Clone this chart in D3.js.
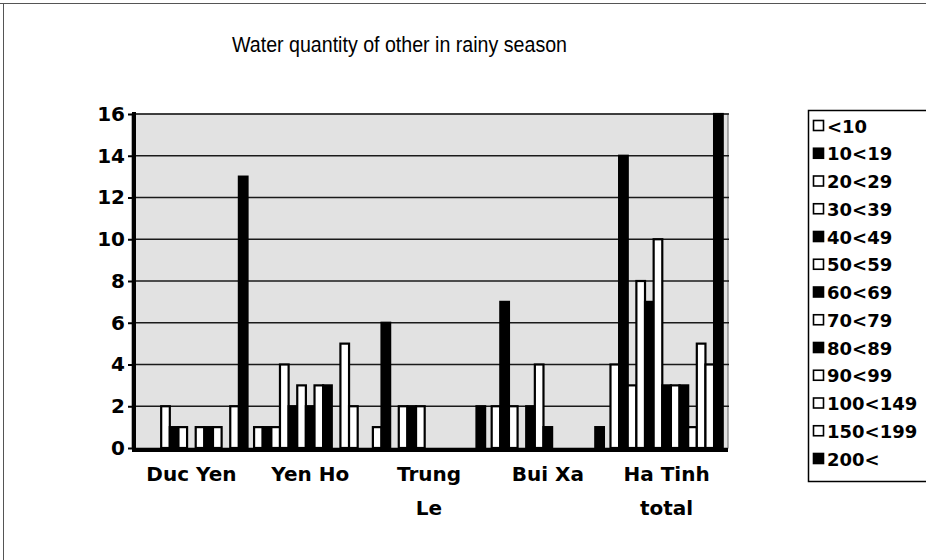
<!DOCTYPE html>
<html>
<head>
<meta charset="utf-8">
<script src="https://cdn.jsdelivr.net/npm/d3@7"></script>
<style>
  html, body { margin: 0; padding: 0; background: #fff; }
  svg { display: block; }
</style>
</head>
<body>
<svg id="chart" width="926" height="560"></svg>
<script>
// ---- data ----
const titleText = "Water quantity of other in rainy season";
const categories = ["Duc Yen", "Yen Ho", "Trung Le", "Bui Xa", "Ha Tinh total"];
const categoryLabelLines = [["Duc Yen"], ["Yen Ho"], ["Trung", "Le"], ["Bui Xa"], ["Ha Tinh", "total"]];
const seriesNames = ["<10", "10<19", "20<29", "30<39", "40<49", "50<59", "60<69",
                     "70<79", "80<89", "90<99", "100<149", "150<199", "200<"];
// one count per quantity class, in the order of seriesNames
const ducYen      = [0, 0, 0, 2, 1, 1, 0, 1, 1, 1, 0, 2, 13];
const yenHo       = [1, 1, 1, 4, 2, 3, 2, 3, 3, 0, 5, 2, 0];
const trungLe     = [1, 6, 0, 2, 2, 2, 0, 0, 0, 0, 0, 0, 2];
const buiXa       = [2, 7, 2, 0, 2, 4, 1, 0, 0, 0, 0, 0, 1];
const haTinhTotal = [4, 14, 3, 8, 7, 10, 3, 3, 3, 1, 5, 4, 16];
const yTicks = [0, 2, 4, 6, 8, 10, 12, 14, 16];

// ---- styles ----
const seriesFills = ["#ffffff", "#000000", "#ffffff", "#ffffff", "#000000", "#ffffff", "#000000",
                     "#ffffff", "#000000", "#ffffff", "#ffffff", "#ffffff", "#000000"];
const boldFont = "'DejaVu Sans', 'Liberation Sans', sans-serif";

const rows = [ducYen, yenHo, trungLe, buiXa, haTinhTotal];
const table = categories.map((c, ci) => ({
  category: c,
  values: seriesNames.map((s, si) => ({ series: s, index: si, value: rows[ci][si] }))
}));

const svg = d3.select("#chart");
const plot = { left: 132, right: 726, top: 114, bottom: 448 };

const x0 = d3.scaleBand().domain(categories).range([plot.left, plot.right]).padding(0);
const x1 = d3.scaleBand().domain(seriesNames).range([0, x0.bandwidth()])
  .paddingInner(0).paddingOuter(0.38);
const y = d3.scaleLinear().domain([0, 16]).range([plot.bottom, plot.top]);

// outer chart frame
svg.append("line").attr("x1", 0).attr("x2", 926).attr("y1", 3.5).attr("y2", 3.5)
  .attr("stroke", "#555").attr("stroke-width", 1);
svg.append("line").attr("x1", 3.5).attr("x2", 3.5).attr("y1", 3).attr("y2", 560)
  .attr("stroke", "#555").attr("stroke-width", 1);

// title
svg.append("text")
  .attr("x", 232).attr("y", 52)
  .attr("font-family", "'Liberation Sans', Arial, sans-serif")
  .attr("font-size", 22)
  .attr("textLength", 335)
  .attr("lengthAdjust", "spacingAndGlyphs")
  .attr("fill", "#000")
  .text(titleText);

// plot area
svg.append("rect")
  .attr("x", plot.left).attr("y", y(16))
  .attr("width", plot.right - plot.left + 2).attr("height", y(0) - y(16))
  .attr("fill", "#e2e2e2")
  .attr("stroke", "#666").attr("stroke-width", 1);

// gridlines
svg.append("g").selectAll("line")
  .data(yTicks.filter(t => t > 0))
  .join("line")
  .attr("x1", plot.left).attr("x2", plot.right + 3)
  .attr("y1", d => y(d)).attr("y2", d => y(d))
  .attr("stroke", "#1a1a1a").attr("stroke-width", 1.5);

// bars
const groups = svg.append("g").selectAll("g")
  .data(table)
  .join("g")
  .attr("transform", d => `translate(${x0(d.category)},0)`);

groups.selectAll("rect")
  .data(d => d.values.filter(v => v.value > 0))
  .join("rect")
  .attr("x", d => x1(d.series))
  .attr("width", x1.bandwidth())
  .attr("y", d => y(d.value))
  .attr("height", d => y(0) - y(d.value))
  .attr("fill", d => seriesFills[d.index])
  .attr("stroke", "#000")
  .attr("stroke-width", 2.2);

// y axis
const yAxis = svg.append("g")
  .attr("transform", `translate(${plot.left + 2},0)`)
  .call(d3.axisLeft(y).tickValues(yTicks).tickSize(6).tickSizeOuter(0).tickPadding(3));
yAxis.select(".domain").attr("stroke", "#000").attr("stroke-width", 4)
  .attr("d", `M0,${y(16) - 2}V${y(0) + 4}`);
yAxis.selectAll(".tick line").attr("stroke", "#000").attr("stroke-width", 2);
yAxis.selectAll(".tick text")
  .attr("font-family", boldFont).attr("font-weight", "bold")
  .attr("font-size", 20).attr("fill", "#000");

// x axis
const xAxis = svg.append("g")
  .attr("transform", `translate(0,${plot.bottom + 2})`)
  .call(d3.axisBottom(x0).tickSize(0).tickSizeOuter(0).tickFormat(""));
xAxis.select(".domain").attr("stroke", "#000").attr("stroke-width", 4)
  .attr("d", `M${plot.left},0H${plot.right + 2}`);
xAxis.selectAll(".tick text").remove();
xAxis.selectAll(".tick")
  .append("text")
  .attr("text-anchor", "middle")
  .attr("font-family", boldFont).attr("font-weight", "bold")
  .attr("font-size", 20).attr("fill", "#000")
  .selectAll("tspan")
  .data(d => categoryLabelLines[categories.indexOf(d)])
  .join("tspan")
  .attr("x", 0)
  .attr("y", (d, i) => 31 + i * 34)
  .text(d => d);

// legend
const legend = svg.append("g");
legend.append("rect")
  .attr("x", 808.5).attr("y", 110.5).attr("width", 140).attr("height", 371)
  .attr("fill", "#fff").attr("stroke", "#000").attr("stroke-width", 1.5);
const legendY = d3.scalePoint().domain(seriesNames).range([126, 459]);
const items = legend.selectAll("g.item")
  .data(seriesNames)
  .join("g")
  .attr("class", "item")
  .attr("transform", d => `translate(0,${legendY(d)})`);
items.append("rect")
  .attr("x", 813.5).attr("y", -5.5).attr("width", 10).attr("height", 10)
  .attr("fill", (d, i) => seriesFills[i])
  .attr("stroke", "#000").attr("stroke-width", 1.6);
items.append("text")
  .attr("x", 827).attr("y", 6.5)
  .attr("font-family", boldFont).attr("font-weight", "bold")
  .attr("font-size", 18).attr("fill", "#000")
  .text(d => d);
</script>
</body>
</html>
